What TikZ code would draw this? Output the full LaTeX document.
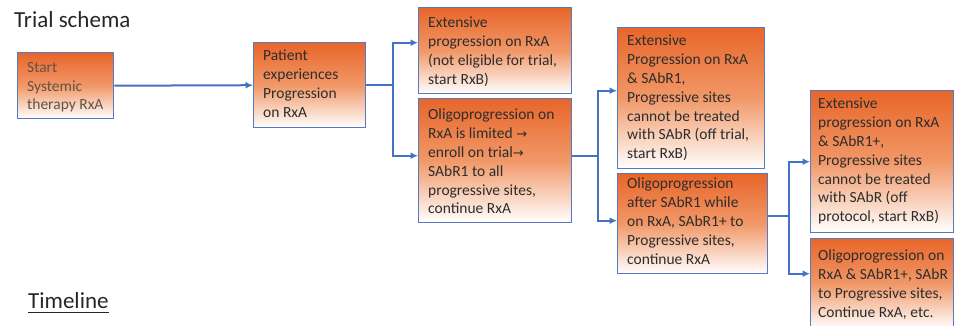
\documentclass[tikz,border=0pt]{standalone}
\usepackage{fontspec}
\setmainfont{Carlito}
\newfontfamily\symfont{DejaVu Sans}
\usetikzlibrary{arrows.meta}

\definecolor{boxorange}{RGB}{232,102,42}
\definecolor{boxmid}{RGB}{241,152,104}
\definecolor{edgeblue}{RGB}{84,122,196}
\definecolor{linkblue}{RGB}{68,114,196}
\definecolor{inktext}{RGB}{45,45,45}
\definecolor{softtext}{RGB}{100,82,70}
\definecolor{titlegray}{RGB}{38,38,38}

\newcommand{\rarr}{{\symfont\fontsize{13}{15}\selectfont →}}

\tikzset{
  stage/.style={draw=edgeblue, line width=1.4pt, top color=boxorange,
    bottom color=white, middle color=boxmid, anchor=north west, inner sep=0pt},
  stagetext/.style={anchor=north west, inner sep=0pt, align=left,
    font=\fontsize{15.5}{18.8}\selectfont, text=inktext},
  heading/.style={anchor=base west, inner sep=0pt,
    font=\fontsize{23}{27}\selectfont, text=titlegray},
  link/.style={draw=linkblue, line width=2pt},
  arrowlink/.style={link, -{Latex[length=7.5pt,width=7pt]}}
}

\begin{document}
\begin{tikzpicture}[x=1pt, y=-1pt]
  \useasboundingbox (0,0) rectangle (955,325);

  % headings
  \node[heading] (title) at (14,27) {Trial schema};
  \node[heading] (timeline) at (28,308) {Timeline};
  \draw[titlegray, line width=1.4pt]
    ([yshift=-4.5pt]timeline.base west) -- ([yshift=-4.5pt]timeline.base east);

  % stage boxes
  \node[stage, minimum width=96pt,  minimum height=66pt]  (b1)  at (17,52)  {};
  \node[stage, minimum width=112pt, minimum height=85pt]  (b2)  at (253,42) {};
  \node[stage, minimum width=153pt, minimum height=86pt]  (b3a) at (418,7)  {};
  \node[stage, minimum width=153pt, minimum height=124pt] (b3b) at (418,98) {};
  \node[stage, minimum width=147pt, minimum height=141pt] (b4a) at (617,27) {};
  \node[stage, minimum width=150pt, minimum height=100pt] (b4b) at (617,173) {};
  \node[stage, minimum width=143pt, minimum height=142pt] (b5a) at (810,90) {};
  \node[stage, minimum width=143pt, minimum height=90pt]  (b5b) at (810,238) {};

  % box texts
  \node[stagetext, text=softtext] (t1) at ([xshift=10pt,yshift=-10pt]b1.north west)
    {Start\\Systemic\\therapy RxA};
  \node[stagetext] (t2) at ([xshift=10pt,yshift=-8pt]b2.north west)
    {Patient\\experiences\\Progression\\on RxA};
  \node[stagetext] (t3a) at ([xshift=10pt,yshift=-10pt]b3a.north west)
    {Extensive\\progression on RxA\\(not eligible for trial,\\start RxB)};
  \node[stagetext] (t3b) at ([xshift=10pt,yshift=-11pt]b3b.north west)
    {Oligoprogression on\\RxA is limited \rarr\\enroll on trial\rarr\\SAbR1 to all\\progressive sites,\\continue RxA};
  \node[stagetext] (t4a) at ([xshift=10pt,yshift=-8pt]b4a.north west)
    {Extensive\\Progression on RxA\\\& SAbR1,\\Progressive sites\\cannot be treated\\with SAbR (off trial,\\start RxB)};
  \node[stagetext] (t4b) at ([xshift=10pt,yshift=-5pt]b4b.north west)
    {Oligoprogression\\after SAbR1 while\\on RxA, SAbR1+ to\\Progressive sites,\\continue RxA};
  \node[stagetext] (t5a) at ([xshift=8pt,yshift=-8pt]b5a.north west)
    {Extensive\\progression on RxA\\\& SAbR1+,\\Progressive sites\\cannot be treated\\with SAbR (off\\protocol, start RxB)};
  \node[stagetext] (t5b) at ([xshift=8pt,yshift=-12pt]b5b.north west)
    {Oligoprogression on\\RxA \& SAbR1+, SAbR\\to Progressive sites,\\Continue RxA, etc.};

  % connectors
  \draw[arrowlink] (b1.east) -- (b2.west);

  \draw[link] (b2.east) -- ++(27,0) coordinate (j1);
  \draw[arrowlink] (j1) |- ([yshift=8pt]b3a.west);
  \draw[arrowlink] (j1) |- ([yshift=5pt]b3b.west);

  \draw[link] ([yshift=5pt]b3b.east) -- ++(26,0) coordinate (j2);
  \draw[arrowlink] (j2) |- ([yshift=7.5pt]b4a.west);
  \draw[arrowlink] (j2) |- ([yshift=3pt]b4b.west);

  \draw[link] ([yshift=8pt]b4b.east) -- ++(21,0) coordinate (j3);
  \draw[arrowlink] (j3) |- (b5a.west);
  \draw[arrowlink] (j3) |- ([yshift=10pt]b5b.west);
\end{tikzpicture}
\end{document}
